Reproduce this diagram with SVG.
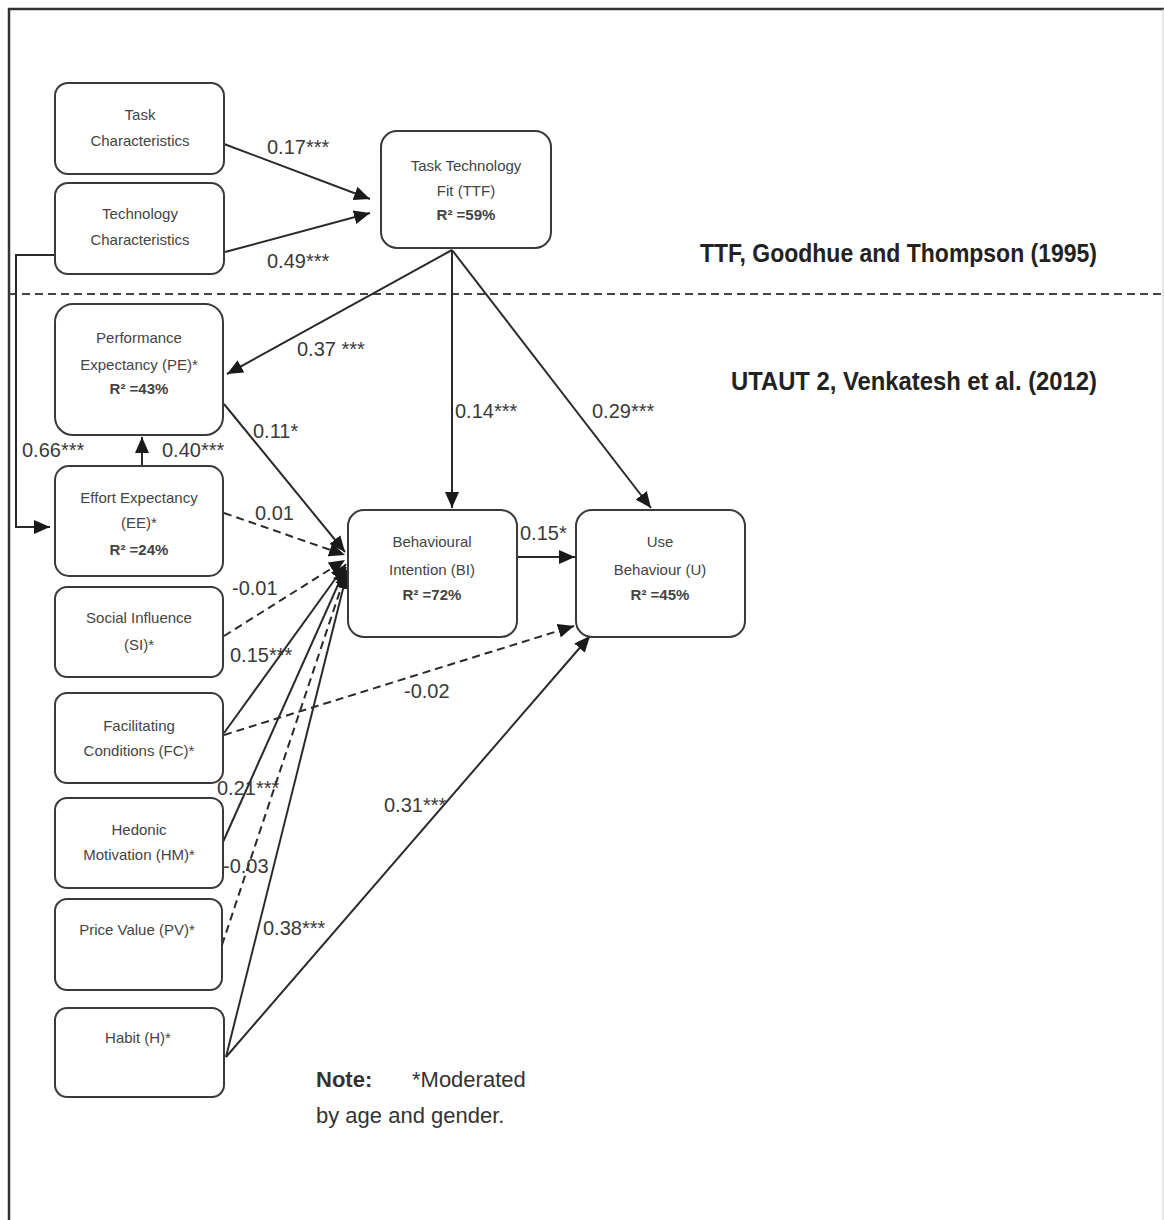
<svg xmlns="http://www.w3.org/2000/svg" width="1164" height="1220" viewBox="0 0 1164 1220">
<style>
.box{fill:#fff;stroke:#3a3a3a;stroke-width:2}
.nt{font-family:"Liberation Sans",Arial,sans-serif;font-size:15px;fill:#444;text-anchor:middle}
.nb{font-weight:bold}
.el{font-family:"Liberation Sans",Arial,sans-serif;font-size:20px;fill:#3a3a3a}
.ln{fill:none;stroke:#2a2a2a;stroke-width:2}
.ds{stroke-dasharray:8,5}
.ttl{font-family:"Liberation Sans",Arial,sans-serif;font-size:25px;font-weight:bold;fill:#222}
.note{font-family:"Liberation Sans",Arial,sans-serif;font-size:22px;fill:#333}
</style>
<defs>
<marker id="ah" markerUnits="userSpaceOnUse" markerWidth="18" markerHeight="14" refX="16" refY="7" orient="auto">
<path d="M0,0 L16,7 L0,14 z" fill="#1a1a1a"/>
</marker>
</defs>
<rect width="1164" height="1220" fill="#fff"/>
<g id="frame">
<path d="M9,1220 L9,9 L1164,9" fill="none" stroke="#333" stroke-width="2.5"/>
<line x1="1163" y1="9" x2="1163" y2="1220" stroke="#ccc" stroke-width="1"/>
<line x1="9" y1="294" x2="1164" y2="294" stroke="#444" stroke-width="2" stroke-dasharray="8,5"/>
</g>
<g id="titles">
<text class="ttl" x="700" y="262" textLength="397" lengthAdjust="spacingAndGlyphs">TTF, Goodhue and Thompson (1995)</text>
<text class="ttl" x="731" y="390" textLength="366" lengthAdjust="spacingAndGlyphs">UTAUT 2, Venkatesh et al.  (2012)</text>
</g>
<g id="connectors">
<line class="ln" x1="224" y1="144" x2="370" y2="199" marker-end="url(#ah)"/>
<line class="ln" x1="225" y1="252" x2="370" y2="213" marker-end="url(#ah)"/>
<path class="ln" d="M55,255 L16,255 L16,527 L50,527" marker-end="url(#ah)"/>
<line class="ln" x1="452" y1="250" x2="227" y2="374" marker-end="url(#ah)"/>
<line class="ln" x1="452" y1="250" x2="452" y2="508" marker-end="url(#ah)"/>
<line class="ln" x1="452" y1="250" x2="651" y2="508" marker-end="url(#ah)"/>
<line class="ln" x1="142" y1="481" x2="142" y2="437" marker-end="url(#ah)"/>
<line class="ln" x1="224" y1="404" x2="345" y2="552" marker-end="url(#ah)"/>
<line class="ln ds" x1="224" y1="513" x2="345" y2="555" marker-end="url(#ah)"/>
<line class="ln ds" x1="224" y1="636" x2="345" y2="560" marker-end="url(#ah)"/>
<line class="ln" x1="224" y1="733" x2="346" y2="564" marker-end="url(#ah)"/>
<line class="ln" x1="223" y1="842" x2="346" y2="567" marker-end="url(#ah)"/>
<line class="ln ds" x1="222" y1="945" x2="347" y2="570" marker-end="url(#ah)"/>
<line class="ln" x1="226" y1="1057" x2="347" y2="573" marker-end="url(#ah)"/>
<line class="ln ds" x1="224" y1="735" x2="574" y2="626" marker-end="url(#ah)"/>
<line class="ln" x1="226" y1="1057" x2="590" y2="636" marker-end="url(#ah)"/>
<line class="ln" x1="517" y1="557" x2="575" y2="557" marker-end="url(#ah)"/>
</g>
<g id="edge-labels">
<text class="el" x="267" y="154">0.17***</text>
<text class="el" x="267" y="268">0.49***</text>
<text class="el" x="297" y="356">0.37 ***</text>
<text class="el" x="22" y="457">0.66***</text>
<text class="el" x="162" y="457">0.40***</text>
<text class="el" x="253" y="438">0.11*</text>
<text class="el" x="255" y="520">0.01</text>
<text class="el" x="232" y="595">-0.01</text>
<text class="el" x="230" y="662">0.15***</text>
<text class="el" x="217" y="795">0.21***</text>
<text class="el" x="223" y="873">-0.03</text>
<text class="el" x="263" y="935">0.38***</text>
<text class="el" x="404" y="698">-0.02</text>
<text class="el" x="384" y="812">0.31***</text>
<text class="el" x="455" y="418">0.14***</text>
<text class="el" x="592" y="418">0.29***</text>
<text class="el" x="520" y="540">0.15*</text>
</g>
<g id="n-task">
<rect class="box" x="55" y="83" width="169" height="91" rx="13"/>
<text class="nt" x="140" y="120">Task</text>
<text class="nt" x="140" y="146">Characteristics</text>
</g>
<g id="n-tech">
<rect class="box" x="55" y="183" width="169" height="91" rx="13"/>
<text class="nt" x="140" y="219">Technology</text>
<text class="nt" x="140" y="245">Characteristics</text>
</g>
<g id="n-ttf">
<rect class="box" x="381" y="131" width="170" height="117" rx="16"/>
<text class="nt" x="466" y="171">Task Technology</text>
<text class="nt" x="466" y="196">Fit (TTF)</text>
<text class="nt nb" x="466" y="220">R² =59%</text>
</g>
<g id="n-pe">
<rect class="box" x="55" y="304" width="168" height="131" rx="18"/>
<text class="nt" x="139" y="343">Performance</text>
<text class="nt" x="139" y="370">Expectancy (PE)*</text>
<text class="nt nb" x="139" y="394">R² =43%</text>
</g>
<g id="n-ee">
<rect class="box" x="55" y="466" width="168" height="110" rx="14"/>
<text class="nt" x="139" y="503">Effort Expectancy</text>
<text class="nt" x="139" y="528">(EE)*</text>
<text class="nt nb" x="139" y="555">R² =24%</text>
</g>
<g id="n-si">
<rect class="box" x="55" y="587" width="168" height="90" rx="12"/>
<text class="nt" x="139" y="623">Social Influence</text>
<text class="nt" x="139" y="650">(SI)*</text>
</g>
<g id="n-fc">
<rect class="box" x="55" y="693" width="168" height="90" rx="12"/>
<text class="nt" x="139" y="731">Facilitating</text>
<text class="nt" x="139" y="756">Conditions (FC)*</text>
</g>
<g id="n-hm">
<rect class="box" x="55" y="798" width="168" height="90" rx="12"/>
<text class="nt" x="139" y="835">Hedonic</text>
<text class="nt" x="139" y="860">Motivation (HM)*</text>
</g>
<g id="n-pv">
<rect class="box" x="55" y="899" width="167" height="91" rx="12"/>
<text class="nt" x="137" y="935">Price Value (PV)*</text>
</g>
<g id="n-habit">
<rect class="box" x="55" y="1008" width="169" height="89" rx="12"/>
<text class="nt" x="138" y="1043">Habit (H)*</text>
</g>
<g id="n-bi">
<rect class="box" x="348" y="510" width="169" height="127" rx="16"/>
<text class="nt" x="432" y="547">Behavioural</text>
<text class="nt" x="432" y="575">Intention (BI)</text>
<text class="nt nb" x="432" y="600">R² =72%</text>
</g>
<g id="n-use">
<rect class="box" x="576" y="510" width="169" height="127" rx="16"/>
<text class="nt" x="660" y="547">Use</text>
<text class="nt" x="660" y="575">Behaviour (U)</text>
<text class="nt nb" x="660" y="600">R² =45%</text>
</g>
<g id="note">
<text class="note" x="316" y="1087"><tspan font-weight="bold">Note:</tspan><tspan x="412">*Moderated</tspan></text>
<text class="note" x="316" y="1123">by age and gender.</text>
</g>
</svg>
